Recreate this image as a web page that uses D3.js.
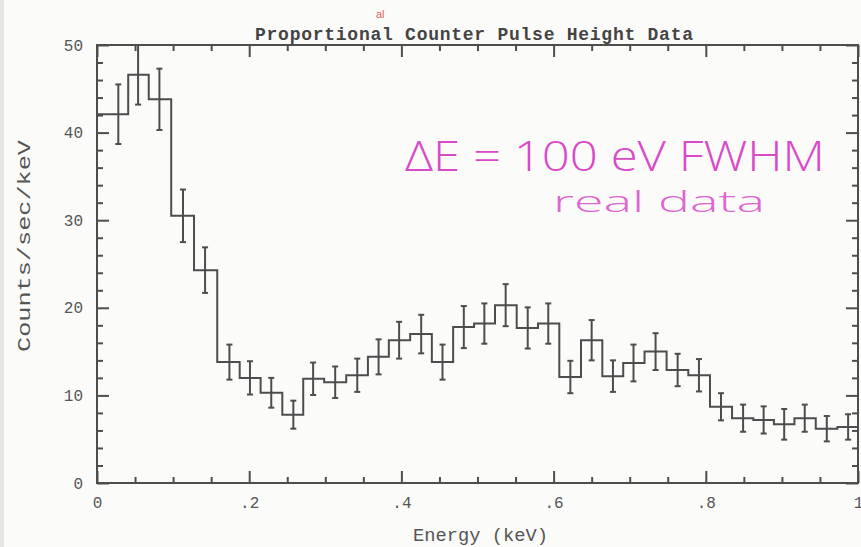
<!DOCTYPE html>
<html>
<head>
<meta charset="utf-8">
<script src="https://cdn.jsdelivr.net/npm/d3@7"></script>
<style>
  body { margin: 0; background: #fbfbf9; }
  svg { display: block; }
  .tick text { font-family: "Liberation Mono", monospace; font-size: 16px; fill: #555; }
  .domain { display: none; }
</style>
</head>
<body>
<script>
// bin centres (keV), rates (counts/sec/keV) and 1-sigma errors
var energy = [0.028, 0.054, 0.082, 0.113, 0.142, 0.174, 0.201, 0.229, 0.258, 0.284,
              0.313, 0.342, 0.370, 0.397, 0.426, 0.454, 0.482, 0.509, 0.537, 0.566,
              0.593, 0.622, 0.650, 0.678, 0.705, 0.734, 0.763, 0.791, 0.820, 0.849,
              0.876, 0.903, 0.930, 0.959, 0.987]
var counts = [42.1, 46.6, 43.8, 30.5, 24.3, 13.8, 12.0, 10.3, 7.8, 11.9,
              11.5, 12.3, 14.4, 16.3, 17.0, 13.8, 17.8, 18.2, 20.3, 17.7,
              18.2, 12.1, 16.3, 12.2, 13.7, 15.0, 12.9, 12.3, 8.7, 7.4,
              7.2, 6.7, 7.4, 6.2, 6.4]
var errors = [3.4, 3.4, 3.5, 3.0, 2.6, 2.0, 1.9, 1.7, 1.6, 1.85,
              1.8, 1.9, 2.0, 2.1, 2.2, 2.0, 2.4, 2.3, 2.4, 2.35,
              2.3, 1.85, 2.3, 1.8, 2.1, 2.1, 1.85, 1.85, 1.55, 1.55,
              1.55, 1.75, 1.55, 1.45, 1.45]
var xMajor = [0, 0.2, 0.4, 0.6, 0.8, 1.0]
var xMinor = [0.05, 0.1, 0.15, 0.25, 0.3, 0.35, 0.45, 0.5, 0.55, 0.65, 0.7, 0.75, 0.85, 0.9, 0.95]
var yMajor = [0, 10, 20, 30, 40, 50]
var yMinor = [2, 4, 6, 8, 12, 14, 16, 18, 22, 24, 26, 28, 32, 34, 36, 38, 42, 44, 46, 48]

var W = 861, H = 547
var m = {left: 97, right: 3, top: 45, bottom: 64}
var ink = "#4d4d4d"

var svg = d3.select("body").append("svg")
  .attr("width", W)
  .attr("height", H)

// faint scan edge on the left
svg.append("rect").attr("x", 0).attr("y", 0).attr("width", 4).attr("height", H).style("fill", "#e6e6e6")

var x = d3.scaleLinear().domain([0, 1]).range([m.left, W - m.right])
var y = d3.scaleLinear().domain([0, 50]).range([H - m.bottom, m.top])

var fmtX = function(d){ return d == 0 ? "0" : d == 1 ? "1" : d3.format(".1f")(d).replace(/^0/, "") }

// axes: inward ticks on all four sides
function axisPair(axisFn, scale, major, minor, trans, labels) {
  var g = svg.append("g").attr("transform", trans)
  g.call(axisFn(scale).tickValues(major).tickSize(-12).tickPadding(labels ? 14 : 0)
    .tickFormat(labels ? labels : ""))
  g.append("g").call(axisFn(scale).tickValues(minor).tickSize(-6).tickFormat(""))
  g.selectAll(".tick line").style("stroke", ink).style("stroke-width", 2)
  return g
}
axisPair(d3.axisBottom, x, xMajor, xMinor, "translate(0," + y(0) + ")", fmtX)
axisPair(d3.axisTop, x, xMajor, xMinor, "translate(0," + y(50) + ")", null)
  .selectAll(".tick line").attr("y2", 12).filter(function(d){ return xMinor.indexOf(d) >= 0 }).attr("y2", 6)
axisPair(d3.axisLeft, y, yMajor, yMinor, "translate(" + x(0) + ",0)", d3.format("d"))
axisPair(d3.axisRight, y, yMajor, yMinor, "translate(" + x(1) + ",0)", null)
  .selectAll(".tick line").attr("x2", -12).filter(function(d){ return yMinor.indexOf(d) >= 0 }).attr("x2", -6)

// frame
svg.append("rect")
  .attr("x", x(0)).attr("y", y(50))
  .attr("width", x(1) - x(0)).attr("height", y(0) - y(50))
  .style("fill", "none").style("stroke", ink).style("stroke-width", 2)

// histogram step line
var edges = [0]
for (var i = 1; i < energy.length; i++) edges.push((energy[i - 1] + energy[i]) / 2)
edges.push(Math.min(1, energy[energy.length - 1] + (energy[energy.length - 1] - energy[energy.length - 2]) / 2))

var p = d3.path()
p.moveTo(x(edges[0]), y(counts[0]))
counts.forEach(function(c, i){
  p.lineTo(x(edges[i]), y(c))
  p.lineTo(x(edges[i + 1]), y(c))
})
svg.append("path").attr("d", p.toString())
  .style("fill", "none").style("stroke", ink).style("stroke-width", 2)

// error bars
var eb = svg.append("g").style("stroke", ink).style("stroke-width", 2)
energy.forEach(function(e, i){
  var cx = x(e)
  eb.append("line").attr("x1", cx).attr("x2", cx)
    .attr("y1", y(counts[i] + errors[i])).attr("y2", y(counts[i] - errors[i]))
  eb.append("line").attr("x1", cx - 3).attr("x2", cx + 3)
    .attr("y1", y(counts[i] + errors[i])).attr("y2", y(counts[i] + errors[i]))
  eb.append("line").attr("x1", cx - 3).attr("x2", cx + 3)
    .attr("y1", y(counts[i] - errors[i])).attr("y2", y(counts[i] - errors[i]))
})

// titles
svg.append("text")
  .attr("x", 255).attr("y", 40)
  .attr("textLength", 438)
  .style("font-family", "Liberation Mono").style("font-weight", "bold")
  .style("font-size", "18px").style("fill", "#444")
  .text("Proportional Counter Pulse Height Data")

svg.append("text")
  .attr("x", 376).attr("y", 18)
  .style("font-family", "Liberation Sans").style("font-size", "11px").style("fill", "#e06060")
  .text("al")

svg.append("text")
  .attr("x", 413).attr("y", 541)
  .attr("textLength", 135).attr("lengthAdjust", "spacingAndGlyphs")
  .style("font-family", "Liberation Mono").style("font-size", "18px").style("fill", "#555")
  .text("Energy (keV)")

svg.append("text")
  .attr("transform", "translate(30,352) rotate(-90)")
  .attr("textLength", 212).attr("lengthAdjust", "spacingAndGlyphs")
  .style("font-family", "Liberation Mono").style("font-size", "18px").style("fill", "#555")
  .text("Counts/sec/keV")

// handwritten note
svg.append("text")
  .attr("x", 405).attr("y", 171)
  .attr("textLength", 420).attr("lengthAdjust", "spacingAndGlyphs")
  .style("font-family", "Open Sans").style("font-weight", 300)
  .style("font-size", "42px").style("fill", "#d84ac8")
  .text("\u0394E = 100 eV  FWHM")

svg.append("text")
  .attr("x", 553).attr("y", 212)
  .attr("textLength", 212).attr("lengthAdjust", "spacingAndGlyphs")
  .style("font-family", "Open Sans").style("font-weight", 300)
  .style("font-size", "30px").style("fill", "#dd66d0")
  .text("real data")
</script>
</body>
</html>
